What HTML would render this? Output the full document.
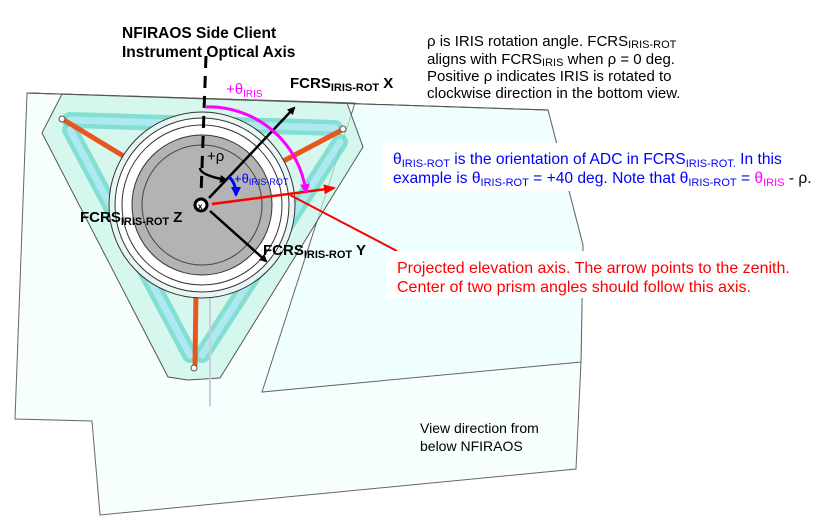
<!DOCTYPE html>
<html><head><meta charset="utf-8"><style>
html,body{margin:0;padding:0;background:#fff;}
svg{display:block;font-family:"Liberation Sans",sans-serif;}
</style></head><body>
<svg width="820" height="521" viewBox="0 0 820 521">
<defs>
<marker id="ak" markerWidth="8" markerHeight="8" refX="6" refY="4" orient="auto" markerUnits="userSpaceOnUse"><path d="M0,0 L8,4 L0,8 z" fill="#000"/></marker>
<marker id="ar" markerWidth="12" markerHeight="10" refX="10" refY="5" orient="auto" markerUnits="userSpaceOnUse"><path d="M0,0 L12,5 L0,10 z" fill="#f00"/></marker>
<marker id="am" markerWidth="10" markerHeight="10" refX="8" refY="5" orient="auto" markerUnits="userSpaceOnUse"><path d="M0,0 L10,5 L0,10 z" fill="#f0f"/></marker>
<marker id="ab" markerWidth="10" markerHeight="10" refX="8" refY="5" orient="auto" markerUnits="userSpaceOnUse"><path d="M0,0 L10,5 L0,10 z" fill="#00f"/></marker>
</defs>
<path d="M27,93 L548,110 L583,245 L581,362 L576,469 L100,515 L92,421 L15,419 Z" fill="#f7fefe" stroke="#666" stroke-width="1"/>
<path d="M27,93 L548,110 L583,245 L581,362 L262,392 L355,103 Z" fill="#effefe" stroke="#666" stroke-width="1"/>
<path d="M62,94 L347,103 L363,147 L220,378 L188,380 L168,377 L42,133 Z" fill="#c8f4e6" fill-opacity="0.7" stroke="#555" stroke-width="1"/>
<line x1="27" y1="93" x2="548" y2="110" stroke="#555" stroke-width="1"/>
<g stroke-linecap="round">
<line x1="70" y1="120" x2="335" y2="128" stroke="#5fd6c8" stroke-width="16" opacity="0.7"/>
<line x1="340" y1="142" x2="202" y2="355" stroke="#5fd6c8" stroke-width="16" opacity="0.7"/>
<line x1="70" y1="130" x2="190" y2="355" stroke="#5fd6c8" stroke-width="16" opacity="0.7"/>
<line x1="70" y1="120" x2="335" y2="128" stroke="#aee8f0" stroke-width="7"/>
<line x1="340" y1="142" x2="202" y2="355" stroke="#aee8f0" stroke-width="7"/>
<line x1="70" y1="130" x2="190" y2="355" stroke="#aee8f0" stroke-width="7"/>
<line x1="64" y1="120" x2="130" y2="160" stroke="#e8561e" stroke-width="5"/>
<line x1="342" y1="130" x2="274" y2="166" stroke="#e8561e" stroke-width="5"/>
<line x1="195" y1="365" x2="196" y2="292" stroke="#e8561e" stroke-width="5"/>
<circle cx="62" cy="119" r="3" fill="#fffbe8" stroke="#555"/>
<circle cx="343" cy="129" r="3" fill="#fffbe8" stroke="#555"/>
<circle cx="194" cy="368" r="3" fill="#fffbe8" stroke="#555"/>
</g>
<line x1="210" y1="285" x2="210" y2="406" stroke="#ccd" stroke-width="2"/>
<g>
<circle cx="202" cy="205" r="93" fill="#e6f6f4" stroke="#333" stroke-width="1"/>
<circle cx="202" cy="205" r="87" fill="#fff" stroke="#333" stroke-width="1"/>
<circle cx="202" cy="205" r="80" fill="#fff" stroke="#333" stroke-width="1"/>
<circle cx="202" cy="205" r="70" fill="#b3b3b3" stroke="#333" stroke-width="1"/>
<circle cx="202" cy="205" r="60" fill="none" stroke="#444" stroke-width="1"/>
</g>
<line x1="206" y1="56" x2="201" y2="195" stroke="#000" stroke-width="3" stroke-dasharray="12,8"/>
<line x1="209" y1="198" x2="294" y2="108" stroke="#000" stroke-width="2.5" marker-end="url(#ak)"/>
<line x1="210" y1="211" x2="266" y2="261" stroke="#000" stroke-width="2.5" marker-end="url(#ak)"/>
<line x1="212" y1="204" x2="334" y2="188" stroke="#f00" stroke-width="2.5" marker-end="url(#ar)"/>
<line x1="290" y1="195" x2="397" y2="251" stroke="#f00" stroke-width="2"/>
<path d="M205,107 A98,98 0 0 1 306,192" fill="none" stroke="#f0f" stroke-width="3" marker-end="url(#am)"/>
<path d="M200,168 Q200,175 226,180" fill="none" stroke="#000" stroke-width="2.5" marker-end="url(#ak)"/>
<path d="M229,177 Q236,183 236,195" fill="none" stroke="#00f" stroke-width="3" marker-end="url(#ab)"/>
<circle cx="201" cy="205" r="6" fill="#fff" stroke="#000" stroke-width="3"/>
<text x="198" y="209" font-size="8" font-weight="bold">x</text>
<g font-weight="bold" font-size="15" fill="#000">
<text x="122" y="38" font-size="15.5">NFIRAOS Side Client</text>
<text x="122" y="57" font-size="15.5">Instrument Optical Axis</text>
<text x="290" y="88">FCRS<tspan font-size="11" dy="3">IRIS-ROT</tspan><tspan dy="-3"> X</tspan></text>
<text x="80" y="222">FCRS<tspan font-size="11" dy="3">IRIS-ROT</tspan><tspan dy="-3"> Z</tspan></text>
<text x="263" y="255">FCRS<tspan font-size="11" dy="3">IRIS-ROT</tspan><tspan dy="-3"> Y</tspan></text>
</g>
<text x="226" y="94" font-size="15" fill="#f0f">+θ<tspan font-size="10" dy="3">IRIS</tspan></text>
<text x="207" y="161" font-size="15" fill="#000">+ρ</text>
<text x="234" y="183" font-size="13" fill="#00f">+θ<tspan font-size="9" dy="2">IRIS-ROT</tspan></text>
<g font-size="15" fill="#000">
<text x="427" y="46">ρ is IRIS rotation angle. FCRS<tspan font-size="11" dy="2">IRIS-ROT</tspan></text>
<text x="427" y="64">aligns with FCRS<tspan font-size="11" dy="2">IRIS</tspan><tspan dy="-2"> when ρ = 0 deg.</tspan></text>
<text x="427" y="81">Positive ρ indicates IRIS is rotated to</text>
<text x="427" y="98">clockwise direction in the bottom view.</text>
</g>
<rect x="383" y="143" width="437" height="48" fill="#fff"/>
<g font-size="15.6" fill="#00f">
<text x="393" y="164">θ<tspan font-size="11" dy="3">IRIS-ROT</tspan><tspan dy="-3"> is the orientation of ADC in FCRS</tspan><tspan font-size="11" dy="3">IRIS-ROT.</tspan><tspan dy="-3"> In this</tspan></text>
<text x="393" y="183">example is θ<tspan font-size="11" dy="3">IRIS-ROT</tspan><tspan dy="-3"> = +40 deg. Note that θ</tspan><tspan font-size="11" dy="3">IRIS-ROT</tspan><tspan dy="-3"> = </tspan><tspan fill="#f0f">θ</tspan><tspan fill="#f0f" font-size="11" dy="3">IRIS</tspan><tspan fill="#000" dy="-3"> - ρ.</tspan></text>
</g>
<rect x="387" y="251" width="400" height="47" fill="#fff"/>
<g font-size="16" fill="#f00">
<text x="397" y="273">Projected elevation axis. The arrow points to the zenith.</text>
<text x="397" y="292">Center of two prism angles should follow this axis.</text>
</g>
<g font-size="14" fill="#000">
<text x="420" y="433">View direction from</text>
<text x="420" y="451">below NFIRAOS</text>
</g>
</svg>
</body></html>
